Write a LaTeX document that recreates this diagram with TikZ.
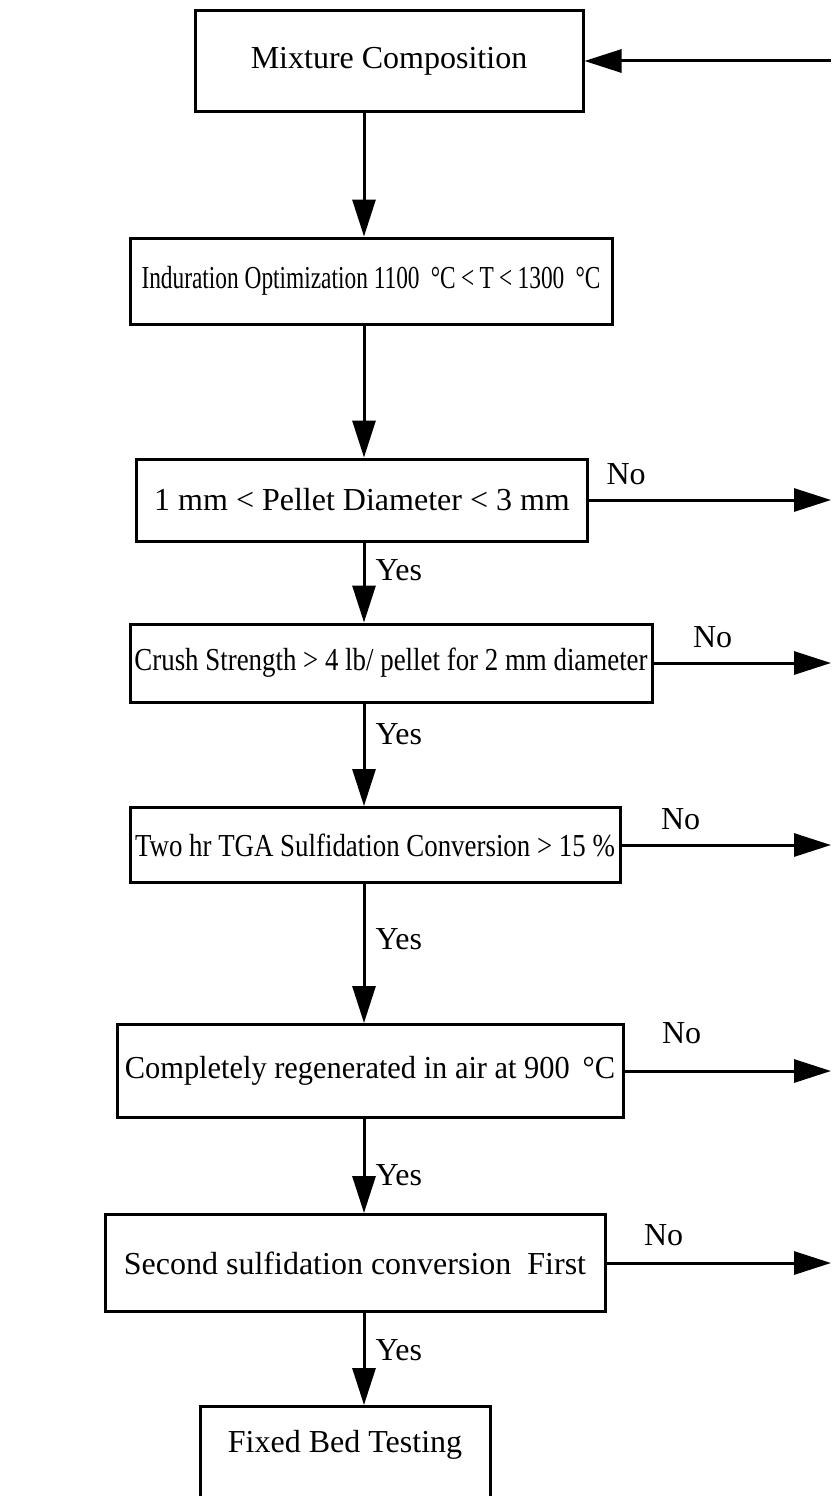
\documentclass[tikz,border=0pt]{standalone}
\usepackage{fontspec}
\setmainfont{Liberation Serif}
\newfontfamily\condfont{Liberation Serif}[FakeStretch=0.84]
\newfontfamily\condmorefont{Liberation Serif}[FakeStretch=0.73]
\newfontfamily\condlessfont{Liberation Serif}[FakeStretch=0.95]
\usetikzlibrary{arrows.meta,positioning}

\tikzset{
  box/.style={draw, line width=3pt, rectangle, inner xsep=3pt,
    font=\fontsize{32}{38}\selectfont},
  cond/.style={font=\fontsize{32}{38}\condfont},
  condmore/.style={font=\fontsize{32}{38}\condmorefont},
  condless/.style={font=\fontsize{32}{38}\condlessfont},
  flow/.style={line width=3pt, -{Triangle[length=37pt,width=23pt]}},
  tag/.style={font=\fontsize{32}{38}\selectfont, inner sep=0pt},
}

\begin{document}
\begin{tikzpicture}[x=1pt,y=-1pt]
    \useasboundingbox (0,0) rectangle (831,1496);
    % titik-titik bantu
    \coordinate (spine) at (364,0);
    \coordinate (rim) at (831,0);

    % kotak-kotak proses
    \node[box, minimum width=388pt, minimum height=100pt] (mix) at (389,61) {Mixture Composition};
    \node[box, condmore, minimum width=482pt, minimum height=86pt] (ind) at (371,281) {Induration Optimization 1100 \,°C\,<\,T\,<\,1300 \,°C};
    \node[box, minimum width=451pt, minimum height=82pt] (pel) at (362,500) {1 mm < Pellet Diameter < 3 mm};
    \node[box, cond, minimum width=522pt, minimum height=78pt] (cru) at (391,663) {Crush Strength > 4 lb/ pellet for 2 mm diameter};
    \node[box, cond, minimum width=490pt, minimum height=75pt] (tga) at (375,845) {Two hr TGA Sulfidation Conversion > 15 \%};
    \node[box, condless, minimum width=506pt, minimum height=93pt] (reg) at (370,1071) {Completely regenerated in air at 900 \,°C};
    \node[box, minimum width=500pt, minimum height=97pt] (sec) at (355,1263) {Second sulfidation conversion\ \ First};
    \node[box, anchor=north, minimum width=290pt, text height=43pt, text depth=60pt] (fix) at (345,1405) {Fixed Bed Testing};

    % panah utama
    \draw[flow] (mix.south -| spine) -- (ind.north -| spine);
    \draw[flow] (ind.south -| spine) -- (pel.north -| spine);
    \draw[flow] (pel.south -| spine) -- node[tag, right=10pt, pos=0.35] {Yes} (cru.north -| spine);
    \draw[flow] (cru.south -| spine) -- node[tag, right=10pt, pos=0.3] {Yes} (tga.north -| spine);
    \draw[flow] (tga.south -| spine) -- node[tag, right=10pt, pos=0.4] {Yes} (reg.north -| spine);
    \draw[flow] (reg.south -| spine) -- node[tag, right=10pt, pos=0.6] {Yes} (sec.north -| spine);
    \draw[flow] (sec.south -| spine) -- node[tag, right=10pt, pos=0.4] {Yes} (fix.north -| spine);

    % panah kembali
    \draw[flow] (mix.east -| rim) -- (mix.east);
    \draw[flow] (pel.east) -- node[tag, pos=0, above right=14pt and 16pt] {No} (pel.east -| rim);
    \draw[flow] (cru.east) -- node[tag, pos=0, above right=14pt and 38pt] {No} (cru.east -| rim);
    \draw[flow] (tga.east) -- node[tag, pos=0, above right=14pt and 38pt] {No} (tga.east -| rim);
    \draw[flow] (reg.east) -- node[tag, pos=0, above right=26pt and 36pt] {No} (reg.east -| rim);
    \draw[flow] (sec.east) -- node[tag, pos=0, above right=16pt and 36pt] {No} (sec.east -| rim);
\end{tikzpicture}
\end{document}
